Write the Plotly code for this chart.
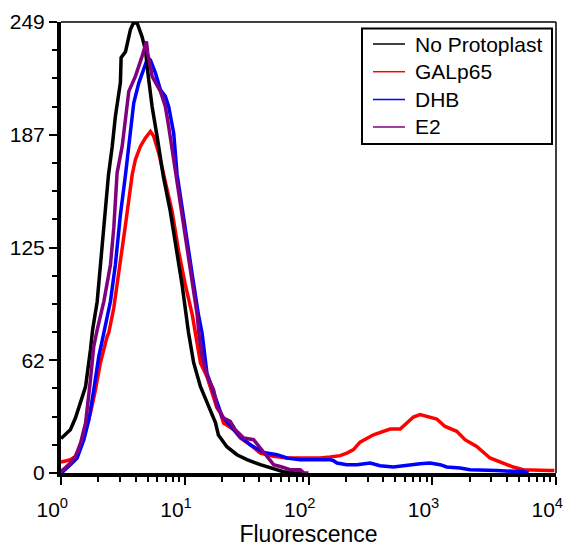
import plotly.graph_objects as go

# ---- data ----
no_prot_x = [1.0, 1.19, 1.31, 1.44, 1.58, 1.73, 1.80, 1.96, 2.15, 2.42, 2.59, 2.75, 3.02, 3.06, 3.32, 3.64,
             3.85, 4.12, 4.52, 4.81, 5.08, 5.45, 5.98, 6.36, 6.72, 7.65, 8.67, 9.51, 10.7, 11.8, 13.4, 15.5,
             17.7, 18.7, 21.9, 26.4, 31.8, 40.8, 49.1, 62.5, 75.2, 90]
no_prot_y = [19, 23.9, 30.5, 38.8, 47.7, 68.1, 79, 94.6, 127.7, 164.7, 180, 196.8, 215.5, 229.3, 232.6, 244.8,
             248.5, 248.5, 240.8, 233.7, 218.8, 202.2, 185.7, 173, 163.6, 144.3, 122.2, 104, 78, 60.9, 47.6, 36.6,
             27.8, 21, 14.5, 10.1, 7.4, 4.6, 2.9, 0.7, 0.2, 0]

galp65_x = [1.0, 1.04, 1.19, 1.31, 1.44, 1.58, 1.73, 1.90, 2.08, 2.36, 2.43, 2.67, 2.93, 3.32, 3.76, 3.99,
            4.38, 4.81, 5.28, 5.61, 6.16, 6.76, 7.90, 8.93, 10.1, 11.5, 12.2, 13.4, 15.1, 17.1, 18.2, 19.4,
            20.6, 23.3, 24.8, 28.1, 33.8, 40.8, 52.2, 66.9, 91.1, 124, 150, 180, 204, 231, 261, 335, 456,
            550, 623, 704, 797, 960, 1087, 1269, 1577, 1839, 2286, 2928, 3749, 4514, 5437, 6973, 8930, 9700]
galp65_y = [6, 6.4, 7.3, 9.2, 14.7, 23.9, 33.1, 46, 60.7, 75.4, 77.3, 91.1, 109.5, 137.1, 164.7, 173,
            180.3, 185, 188.6, 185.9, 176.7, 164, 144.5, 122.4, 104, 87.4, 78, 60.7, 53.3, 42.3, 36, 33.1,
            27.6, 25.2, 23.9, 19.3, 15.6, 11, 9.2, 8.3, 8.3, 8.3, 8.8, 9.6, 11, 12.9, 17, 21.1, 24.3,
            24.3, 27.6, 30.9, 32.2, 30.9, 29.8, 25.7, 23, 18.4, 14.7, 8.3, 5.5, 3.3, 1.8, 1.4, 1.4, 1.4]

dhb_x = [1.0, 1.04, 1.19, 1.35, 1.53, 1.68, 1.84, 2.02, 2.15, 2.22, 2.51, 2.75, 3.02, 3.32, 3.53, 3.87,
         4.25, 4.66, 5.02, 5.28, 5.79, 6.36, 6.97, 7.41, 8.14, 8.67, 10.1, 11.5, 12.9, 13.8, 15.1, 17.1,
         19.4, 20.0, 23.3, 28.1, 33.8, 43.3, 55.6, 66.9, 85.7, 124, 150, 159, 170, 204, 246, 315, 379,
         485, 662, 797, 960, 1156, 1309, 1676, 2018, 2431, 3316, 4514, 5437, 6000]
dhb_y = [0.5, 0.9, 4.6, 8.3, 18.4, 29.4, 46, 64.4, 73, 77.3, 94.8, 115, 142.6, 164.7, 180.3, 204.3,
         215.3, 223.6, 229.2, 228, 220.9, 211.6, 208, 202.4, 187.7, 165, 133.4, 109.5, 87.4, 77.3, 55.2, 44.2,
         33.1, 31.3, 26.2, 20.2, 15.6, 11.4, 10.1, 8.3, 7.3, 7.3, 7.3, 6.8, 5.5, 4.6, 4.6, 5.5, 4,
         3.3, 4.6, 5.1, 5.5, 4.6, 3.3, 2.8, 1.8, 1.8, 1.4, 0.9, 0.9, 0]

e2_x = [1.0, 1.04, 1.19, 1.31, 1.44, 1.58, 1.73, 1.84, 1.96, 2.22, 2.51, 2.67, 2.84, 3.12, 3.53, 3.99,
        4.52, 4.90, 5.02, 5.45, 6.36, 6.97, 7.41, 8.14, 8.5, 9.80, 11.1, 12.6, 13.0, 13.8, 15.1, 17.1,
        18.2, 20.6, 23.3, 25.6, 29.9, 36.0, 40.8, 44.7, 52.2, 59.1, 71.2, 85.7, 91.1, 100]
e2_y = [1, 1.8, 5.5, 9.2, 16.6, 27.6, 51.5, 69.9, 79, 94.8, 115, 135.3, 165.7, 180.3, 210.7, 219,
        230, 238.3, 231.9, 219, 210.7, 202.4, 191.4, 173, 163, 137, 109.5, 87.4, 77.3, 64.4, 54, 46,
        36.8, 30.4, 28.5, 23.9, 19.3, 18.4, 13.8, 10.1, 4.6, 3.6, 1.8, 1.8, 0.2, 0]

series_names = ["No Protoplast", "GALp65", "DHB", "E2"]
series_colors = ["#000000", "#ff0000", "#0000ff", "#800080"]
series_x = [no_prot_x, galp65_x, dhb_x, e2_x]
series_y = [no_prot_y, galp65_y, dhb_y, e2_y]

x_tickvals = [1, 10, 100, 1000, 10000]
x_ticktext = ["10<sup>%d</sup>" % p + "\u00a0" * 3 for p in range(5)]
x_minor = [m * 10 ** d for d in range(4) for m in range(2, 10)]
y_tickvals = [0, 62.25, 124.5, 186.75, 249]
y_ticktext = ["0", "62", "125", "187", "249"]
y_minor = [k * 249 / 16 for k in range(17)]

FONT = "Liberation Sans, Arial, sans-serif"

# figure geometry (pixels)
W, H = 564, 547
ML, MR, MT, MB = 61, 8, 22, 74
PW, PH = W - ML - MR, H - MT - MB


def px(xp):
    return (xp - ML) / PW


def py(yp):
    return (H - MB - yp) / PH


fig = go.Figure()
# draw order: red, blue, black, purple on top
for idx in [1, 2, 0, 3]:
    fig.add_trace(go.Scatter(x=series_x[idx], y=series_y[idx], mode="lines", name=series_names[idx],
                             line=dict(color=series_colors[idx], width=3.5), showlegend=False))

# legend drawn as a boxed key in the upper right
shapes = [
    dict(type="line", xref="paper", yref="paper", x0=0, x1=1, y0=1, y1=1,
         line=dict(color="black", width=1.5)),
    dict(type="line", xref="paper", yref="paper", x0=1, x1=1, y0=0, y1=1,
         line=dict(color="black", width=1.5)),
    dict(type="rect", xref="paper", yref="paper", x0=px(362), x1=px(552), y0=py(144), y1=py(28.5),
         line=dict(color="black", width=2), fillcolor="white", layer="above"),
]
annotations = []
legend_rows = [44, 71.7, 99.5, 127]
for name, col, row in zip(series_names, series_colors, legend_rows):
    shapes.append(dict(type="line", xref="paper", yref="paper", x0=px(373), x1=px(405),
                       y0=py(row), y1=py(row), line=dict(color=col, width=1.5), layer="above"))
    annotations.append(dict(text=name, xref="paper", yref="paper", x=px(413), y=py(row),
                            xanchor="left", yanchor="middle", showarrow=False,
                            font=dict(size=21, family=FONT, color="black")))

fig.update_layout(
    template="none",
    width=W, height=H,
    margin=dict(l=ML, r=MR, t=MT, b=MB),
    paper_bgcolor="white", plot_bgcolor="white",
    font=dict(family=FONT, color="black", size=20),
    showlegend=False,
    shapes=shapes,
    annotations=annotations,
)
fig.update_xaxes(type="log", range=[0, 4], showgrid=False, zeroline=False, automargin=False,
                 showline=True, linecolor="black", linewidth=4,
                 ticks="outside", ticklen=8, tickwidth=1.5, tickcolor="black",
                 tickvals=x_tickvals, ticktext=x_ticktext, ticklabeloverflow="allow",
                 ticklabelstandoff=7,
                 tickfont=dict(size=21, family=FONT),
                 minor=dict(tickvals=x_minor, ticks="outside", ticklen=5, tickwidth=1.5, tickcolor="black"),
                 title=dict(text="Fluorescence", font=dict(size=23, family=FONT), standoff=11))
fig.update_yaxes(range=[0, 249], showgrid=False, zeroline=False, automargin=False,
                 showline=True, linecolor="black", linewidth=4,
                 ticks="outside", ticklen=8, tickwidth=1.5, tickcolor="black",
                 tickvals=y_tickvals, ticktext=y_ticktext,
                 tickfont=dict(size=21, family=FONT),
                 minor=dict(tickvals=y_minor, ticks="outside", ticklen=5, tickwidth=1.5, tickcolor="black"))

fig.write_html("out.html")
